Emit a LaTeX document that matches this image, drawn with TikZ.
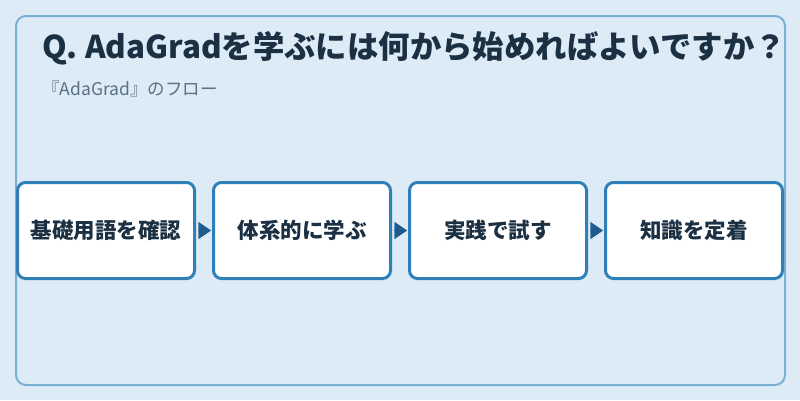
\documentclass[tikz,border=0pt]{standalone}
\usepackage{fontspec}
\setmainfont{Noto Sans CJK JP}
\usetikzlibrary{positioning,arrows.meta}
\definecolor{bgblue}{HTML}{DCEBF6}
\definecolor{framecol}{HTML}{7AB0D4}
\definecolor{boxcol}{HTML}{2F80B7}
\definecolor{inkcol}{HTML}{1B3042}
\definecolor{subcol}{HTML}{5A7084}
\definecolor{tipcol}{HTML}{1F5B8C}
\tikzset{
  stepbox/.style={draw=boxcol, line width=3pt, fill=white, rounded corners=8pt,
    minimum width=177pt, minimum height=96pt, text=inkcol,
    font=\fontsize{21.5pt}{24pt}\selectfont\bfseries},
  flowtip/.style={draw=tipcol, fill=tipcol, line width=0.3pt,
    -{Triangle[length=12.5pt,width=17pt]}, shorten <=2pt, shorten >=1pt}
}
\begin{document}
\begin{tikzpicture}[x=1pt,y=-1pt]
    \fill[bgblue] (0,0) rectangle (800,400);
    \useasboundingbox (0,0) rectangle (800,400);
    \draw[framecol, line width=2pt, rounded corners=10pt] (16,16) rectangle (785,385);

    \node[anchor=base west, inner sep=0pt, text=inkcol,
      font=\fontsize{31.4pt}{34pt}\selectfont\bfseries] (title) at (42,58)
      {Q. AdaGradを学ぶには何から始めればよいですか？};
    \node[anchor=base west, inner sep=0pt, text=subcol,
      font=\fontsize{17.5pt}{20pt}\selectfont] (subtitle) at (42,95)
      {『AdaGrad』のフロー};

    \node[stepbox] (s1) at (106,230.5) {基礎用語を確認};
    \node[stepbox, right=16pt of s1] (s2) {体系的に学ぶ};
    \node[stepbox, right=16pt of s2] (s3) {実践で試す};
    \node[stepbox, right=16pt of s3] (s4) {知識を定着};

    \draw[flowtip] (s1.east) -- (s2.west);
    \draw[flowtip] (s2.east) -- (s3.west);
    \draw[flowtip] (s3.east) -- (s4.west);
\end{tikzpicture}
\end{document}
